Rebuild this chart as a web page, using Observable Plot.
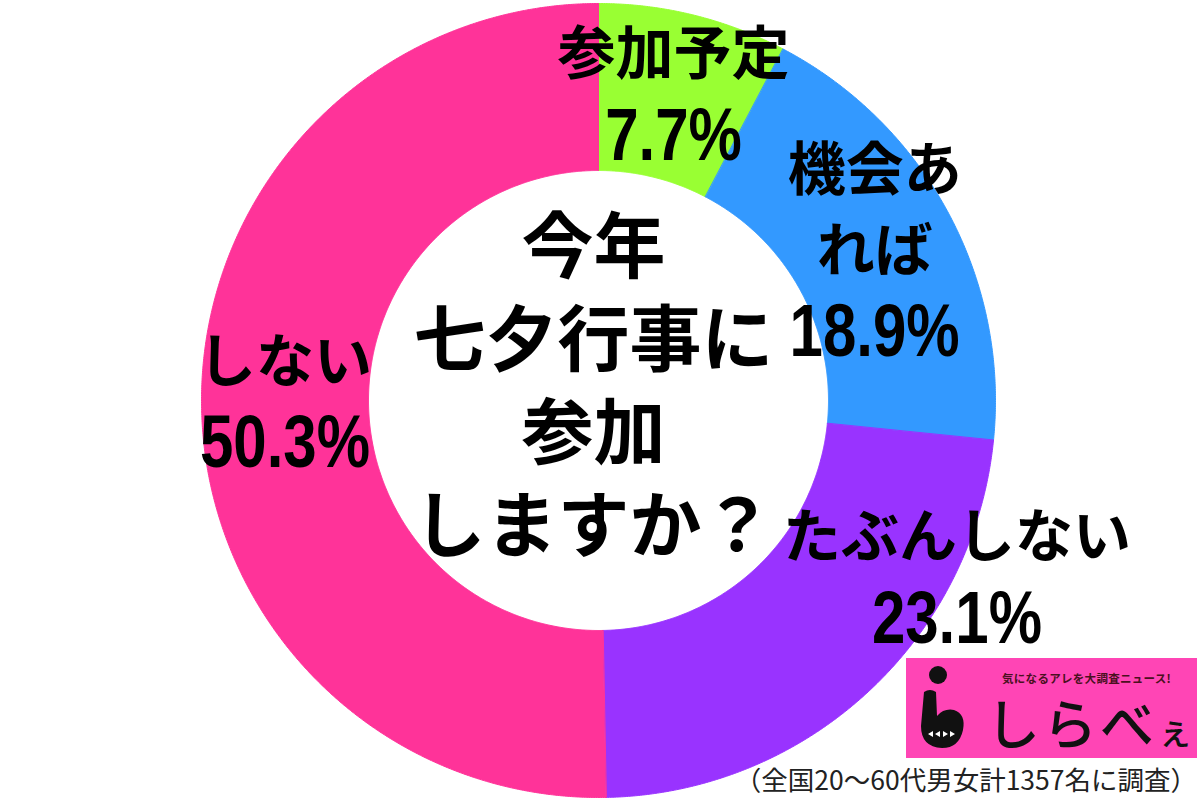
<!DOCTYPE html>
<html>
<head>
<meta charset="utf-8">
<script src="https://cdn.jsdelivr.net/npm/d3@7"></script>
<script src="https://cdn.jsdelivr.net/npm/@observablehq/plot@0.6"></script>
<style>
  html, body { margin: 0; padding: 0; background: #ffffff; }
  body { width: 1200px; height: 800px; overflow: hidden; position: relative; font-family: "Noto Sans CJK JP", sans-serif; }
  #chart { position: absolute; left: 0; top: 0; }
  #logo { position: absolute; left: 906px; top: 658px; width: 291px; height: 100px; background: #ff45b5; }
  #logo .tag { position: absolute; left: 96px; top: 13px; font-size: 11.5px; line-height: 14px; font-weight: 700; color: #4a1020; letter-spacing: 0.3px; white-space: nowrap; }
  #logo .name { position: absolute; left: 80px; top: 29px; font-size: 54px; font-weight: 500; color: #111; letter-spacing: 3px; white-space: nowrap; line-height: 70px; }
  #logo .name small { font-size: 36px; }
  #logo svg { position: absolute; left: 0; top: 0; }
  #caption { position: absolute; right: 3px; top: 762px; font-size: 26.5px; line-height: 34px; color: #222; white-space: nowrap; font-family: "Noto Sans CJK JP", sans-serif; font-weight: 400; }
</style>
</head>
<body>
<div id="chart"></div>
<div id="logo">
  <svg width="80" height="100" viewBox="0 0 80 100">
    <circle cx="32" cy="17" r="9" fill="#111"/>
    <path d="M18 34 Q24 30 30 34 L31 58 Q38 50 48 52 Q60 56 57 72 Q53 90 36 90 Q15 89 15 68 Z" fill="#111"/>
    <path d="M22 76 L27 73 L27 79 Z M29 76 L34 73 L34 79 Z M44 73 L49 76 L44 79 Z M37 73 L42 76 L37 79 Z" fill="#ffffff"/>
  </svg>
  <div class="tag">気になるアレを大調査ニュース!</div>
  <div class="name">しらべ<small>ぇ</small></div>
</div>
<div id="caption"></div>
<script>
// ---- data ----
const categories = ["参加予定", "機会あれば", "たぶんしない", "しない"];
const values = [7.7, 18.9, 23.1, 50.3];
const colors = ["#99ff33", "#3399ff", "#9933ff", "#ff3399"];
const nameLines = [["参加予定"], ["機会あ", "れば"], ["たぶんしない"], ["しない"]];
const centerLines = ["今年", "七夕行事に", "参加", "しますか？"];
const captionText = "（全国20～60代男女計1357名に調査）";

// ---- layout ----
const CX = 598, CY = 400, R_OUT = 397, R_IN = 230;
const labelShift = [[0, 0], [0, 0], [146, -52], [0, 0]]; // px (screen)
const LINE_STEP = 81;
const CENTER_STEP = 93;
const CENTER_OFFSET = [-5, 12];
const DIGIT_STRETCH = 1.22;

document.getElementById("caption").textContent = captionText;

const slices = d3.pie().sort(null).value(d => d.value)(
  categories.map((c, i) => ({category: c, value: values[i]}))
);

// ring polygons derived from pie angles
const ring = [];
slices.forEach(s => {
  const n = Math.max(2, Math.ceil((s.endAngle - s.startAngle) / (Math.PI / 720)));
  for (let k = 0; k <= n; k++) {
    const a = s.startAngle + (s.endAngle - s.startAngle) * k / n;
    ring.push({category: s.data.category, x: R_OUT * Math.sin(a), y: R_OUT * Math.cos(a)});
  }
  for (let k = n; k >= 0; k--) {
    const a = s.startAngle + (s.endAngle - s.startAngle) * k / n;
    ring.push({category: s.data.category, x: R_IN * Math.sin(a), y: R_IN * Math.cos(a)});
  }
});

// label rows
const labelRows = [];
slices.forEach((s, i) => {
  const mid = (s.startAngle + s.endAngle) / 2, rm = (R_OUT + R_IN) / 2;
  const lx = rm * Math.sin(mid) + labelShift[i][0];
  const ly = rm * Math.cos(mid) - labelShift[i][1];
  const lines = nameLines[i].map(t => ({text: t, kind: "name"}))
    .concat([{text: s.data.value.toFixed(1) + "%", kind: "pct"}]);
  lines.forEach((l, j) => labelRows.push({...l, x: lx, y: ly - (j - (lines.length - 1) / 2) * LINE_STEP}));
});

const plot = Plot.plot({
  width: 1200,
  height: 800,
  margin: 0,
  style: {background: "transparent", fontFamily: "'Noto Sans CJK JP', sans-serif"},
  x: {domain: [-R_OUT, R_OUT], range: [CX - R_OUT, CX + R_OUT], axis: null},
  y: {domain: [-R_OUT, R_OUT], range: [CY + R_OUT, CY - R_OUT], axis: null},
  color: {domain: categories, range: colors},
  marks: [
    Plot.line(ring, {x: "x", y: "y", z: "category", fill: "category", stroke: "category", strokeWidth: 1, curve: "linear-closed"}),
    Plot.text(labelRows.filter(d => d.kind === "name"), {
      x: "x", y: "y", text: "text", fontSize: 58, fontWeight: 700, fill: "#000",
      fontFamily: "'Noto Sans CJK JP', sans-serif"
    }),
    Plot.text(labelRows.filter(d => d.kind === "pct"), {
      x: "x", y: "y", text: "text", fontSize: 60, fontWeight: 700, fill: "#000",
      fontFamily: "'Liberation Sans', Arial, sans-serif"
    }),
    Plot.text(centerLines, {
      x: () => CENTER_OFFSET[0],
      y: (d, i) => ((centerLines.length - 1) / 2 - i) * CENTER_STEP + CENTER_OFFSET[1],
      text: d => d, fontSize: 72, fontWeight: 700, fill: "#000",
      fontFamily: "'Noto Sans CJK JP', sans-serif"
    })
  ]
});
document.getElementById("chart").appendChild(plot);

// stretch percent digits vertically (tall gothic digits in the reference)
d3.select(plot).selectAll("text").each(function() {
  if (!/%$/.test(this.textContent)) return;
  const t = this.getAttribute("transform");
  if (t && t.indexOf("translate") >= 0) {
    this.setAttribute("transform", t + ` scale(1,${DIGIT_STRETCH})`);
  } else {
    const x = +this.getAttribute("x") || 0, y = +this.getAttribute("y") || 0;
    this.removeAttribute("x"); this.removeAttribute("y");
    this.setAttribute("transform", `translate(${x},${y}) scale(1,${DIGIT_STRETCH})`);
  }
});
</script>
</body>
</html>
